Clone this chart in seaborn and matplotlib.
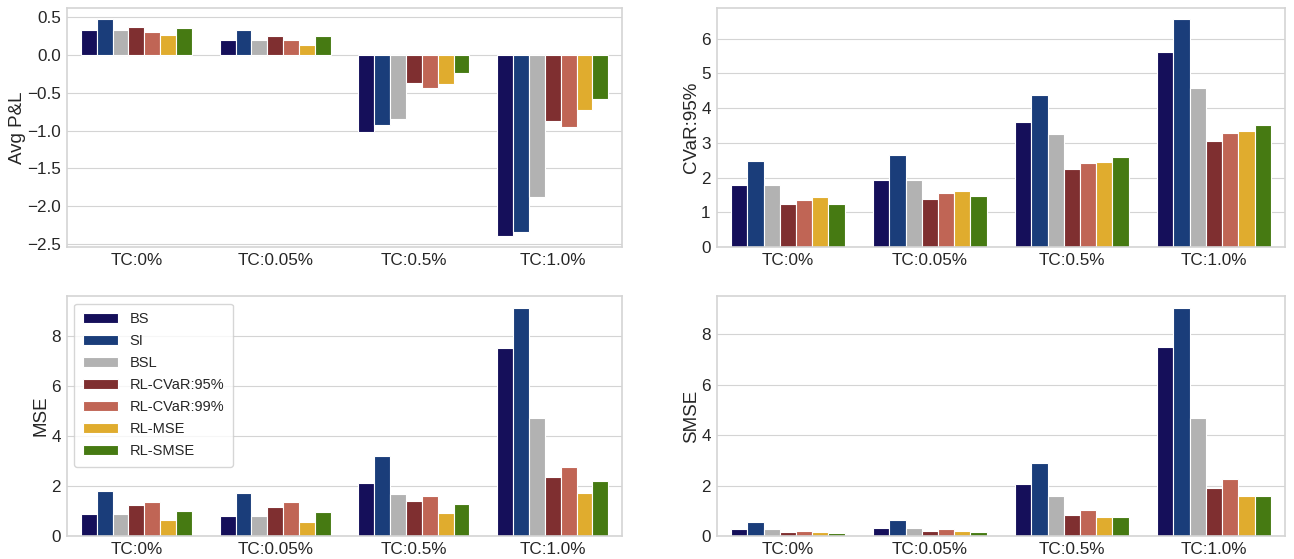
import numpy as np
import pandas as pd
import seaborn as sns
import matplotlib
matplotlib.use("Agg")
import matplotlib.pyplot as plt
from matplotlib.ticker import MultipleLocator

tc_levels = ["TC:0%", "TC:0.05%", "TC:0.5%", "TC:1.0%"]
methods = ["BS", "SI", "BSL", "RL-CVaR:95%", "RL-CVaR:99%", "RL-MSE", "RL-SMSE"]
colors = ["#150f5a", "#1a3d7a", "#b2b2b2", "#7f2f30", "#c06555", "#e0ac2e", "#467a12"]

# rows: methods, columns: tc_levels
avg_pnl = [
    [0.34, 0.20, -1.02, -2.40],
    [0.48, 0.34, -0.92, -2.35],
    [0.34, 0.20, -0.85, -1.88],
    [0.37, 0.25, -0.37, -0.87],
    [0.31, 0.20, -0.44, -0.95],
    [0.27, 0.14, -0.38, -0.73],
    [0.36, 0.26, -0.23, -0.58],
]
cvar95 = [
    [1.78, 1.94, 3.60, 5.62],
    [2.48, 2.66, 4.39, 6.55],
    [1.78, 1.94, 3.25, 4.58],
    [1.24, 1.38, 2.26, 3.05],
    [1.36, 1.55, 2.41, 3.27],
    [1.44, 1.62, 2.46, 3.35],
    [1.25, 1.47, 2.59, 3.50],
]
mse = [
    [0.88, 0.80, 2.11, 7.53],
    [1.79, 1.74, 3.20, 9.15],
    [0.88, 0.80, 1.67, 4.72],
    [1.23, 1.15, 1.40, 2.35],
    [1.35, 1.38, 1.62, 2.76],
    [0.64, 0.57, 0.91, 1.73],
    [1.00, 0.96, 1.28, 2.21],
]
smse = [
    [0.28, 0.34, 2.05, 7.49],
    [0.54, 0.65, 2.91, 9.05],
    [0.28, 0.34, 1.59, 4.68],
    [0.16, 0.22, 0.82, 1.89],
    [0.20, 0.28, 1.02, 2.28],
    [0.16, 0.21, 0.74, 1.57],
    [0.12, 0.18, 0.74, 1.57],
]


def to_frame(values):
    rows = []
    for m, vals in zip(methods, values):
        for tc, v in zip(tc_levels, vals):
            rows.append({"tc": tc, "method": m, "value": v})
    return pd.DataFrame(rows)


sns.set_style("whitegrid")
plt.rcParams["font.family"] = ["Liberation Sans", "DejaVu Sans"]
plt.rcParams["axes.edgecolor"] = "#d4d4d4"
plt.rcParams["grid.color"] = "#d4d4d4"

fig = plt.figure(figsize=(12.94, 5.59), dpi=100)
positions = [
    [0.0518, 0.558, 0.429, 0.4275],
    [0.554, 0.558, 0.439, 0.4275],
    [0.0518, 0.041, 0.429, 0.429],
    [0.554, 0.041, 0.439, 0.429],
]
panels = [
    (avg_pnl, "Avg P&L", 0.5),
    (cvar95, "CVaR:95%", 1),
    (mse, "MSE", 2),
    (smse, "SMSE", 2),
]

for i, (pos, (vals, label, step)) in enumerate(zip(positions, panels)):
    ax = fig.add_axes(pos)
    df = to_frame(vals)
    sns.barplot(
        data=df, x="tc", y="value", hue="method",
        order=tc_levels, hue_order=methods, palette=colors, saturation=1,
        edgecolor="white", linewidth=0.8, ax=ax,
    )
    ax.set_xlabel("")
    ax.set_ylabel(label, fontsize=13.5, labelpad=1)
    ax.yaxis.set_major_locator(MultipleLocator(step))
    ax.tick_params(axis="both", labelsize=12.3, pad=1)
    for s in ax.spines.values():
        s.set_color("#d4d4d4")
        s.set_linewidth(1.2)
    if i == 2:
        ax.legend(loc="upper left", fontsize=10.5, frameon=True,
                  handlelength=2.4, labelspacing=0.55, borderpad=0.6)
    else:
        ax.get_legend().remove()

fig.savefig("out.png", dpi=100)
